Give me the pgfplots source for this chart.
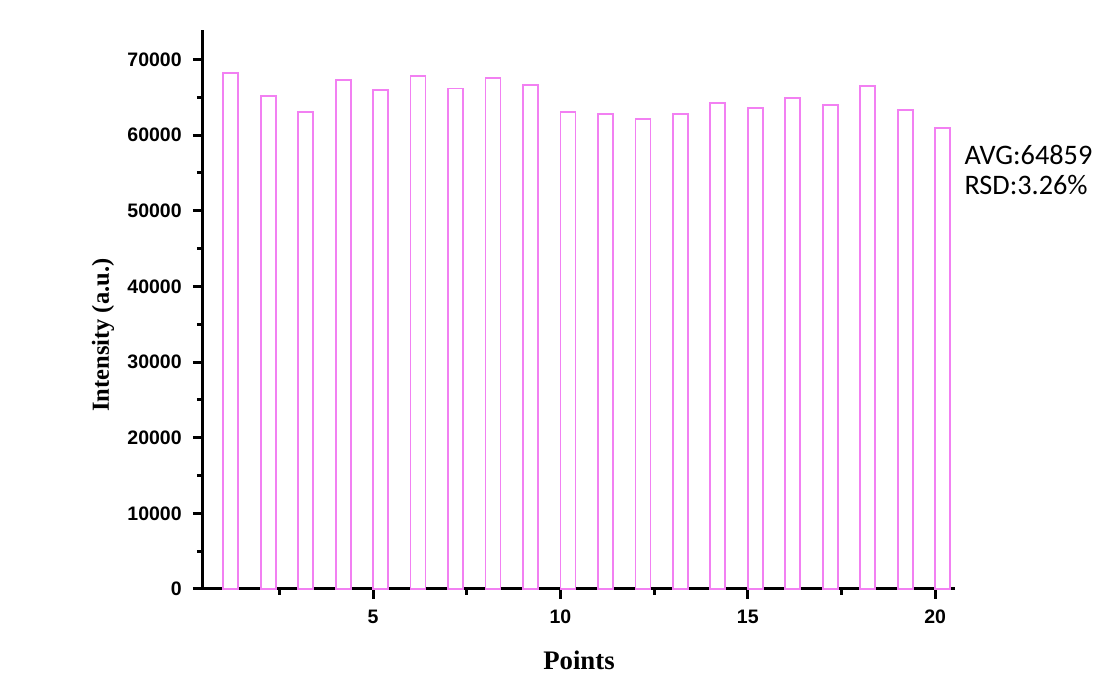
\documentclass[border=0pt]{standalone}
\usepackage{fontspec}
\setmainfont{Liberation Serif}
\newfontfamily\arialfont{Liberation Sans}
\newfontfamily\calibrifont{Carlito}
\usepackage{pgfplots}
\pgfplotsset{compat=1.18}
\definecolor{barpink}{RGB}{242,128,242}

\begin{document}
\begin{tikzpicture}
\begin{axis}[
  name=ax,
  scale only axis,
  width=300.8pt, height=223.6pt,
  xmin=0.46, xmax=20.53, ymin=0, ymax=73900,
  axis lines=left, axis line style={-, line width=1.2pt},
  every tick/.style={black, line width=1.2pt},
  tick align=outside,
  major tick length=4pt, minor tick length=2.4pt,
  xtick={5,10,15,20}, minor xtick={2.5,7.5,12.5,17.5},
  ytick={0,10000,...,70000}, minor ytick={5000,15000,...,65000},
  scaled y ticks=false,
  /pgf/number format/1000 sep={},
  /pgf/number format/assume math mode=true,
  ticklabel style={font=\arialfont\bfseries\fontsize{7.8}{9}\selectfont},
  yticklabel style={xshift=-1pt},
  xticklabel style={yshift=-1pt},
  xlabel={\textbf{Points}}, ylabel={\textbf{Intensity (a.u.)}},
  xlabel style={at={(axis description cs:0.5,-0.127)}, anchor=center,
    font=\fontsize{10.7}{12}\selectfont},
  ylabel style={at={(axis description cs:-0.133,0.454)}, anchor=center,
    font=\fontsize{9.8}{11}\selectfont},
  clip=false,
]
\addplot[ybar, bar width=0.4, bar shift=0.2, draw=barpink, fill=white, line width=0.7pt]
coordinates {
  (1,68240) (2,65170) (3,63090) (4,67240) (5,65960)
  (6,67850) (7,66180) (8,67580) (9,66660) (10,63090)
  (11,62830) (12,62090) (13,62830) (14,64280) (15,63540)
  (16,64860) (17,64020) (18,66530) (19,63280) (20,60940) };
\node[anchor=west, align=left, inner sep=0pt, font=\calibrifont\fontsize{11.3}{12.2}\selectfont]
  at (axis description cs:1.012,0.75) {AVG:64859\\RSD:3.26\%};
\end{axis}
\pgfresetboundingbox
\path[use as bounding box] ([shift={(-81.2pt,-33.6pt)}]ax.south west) rectangle ([shift={(57.6pt,12pt)}]ax.north east);
\end{tikzpicture}
\end{document}
